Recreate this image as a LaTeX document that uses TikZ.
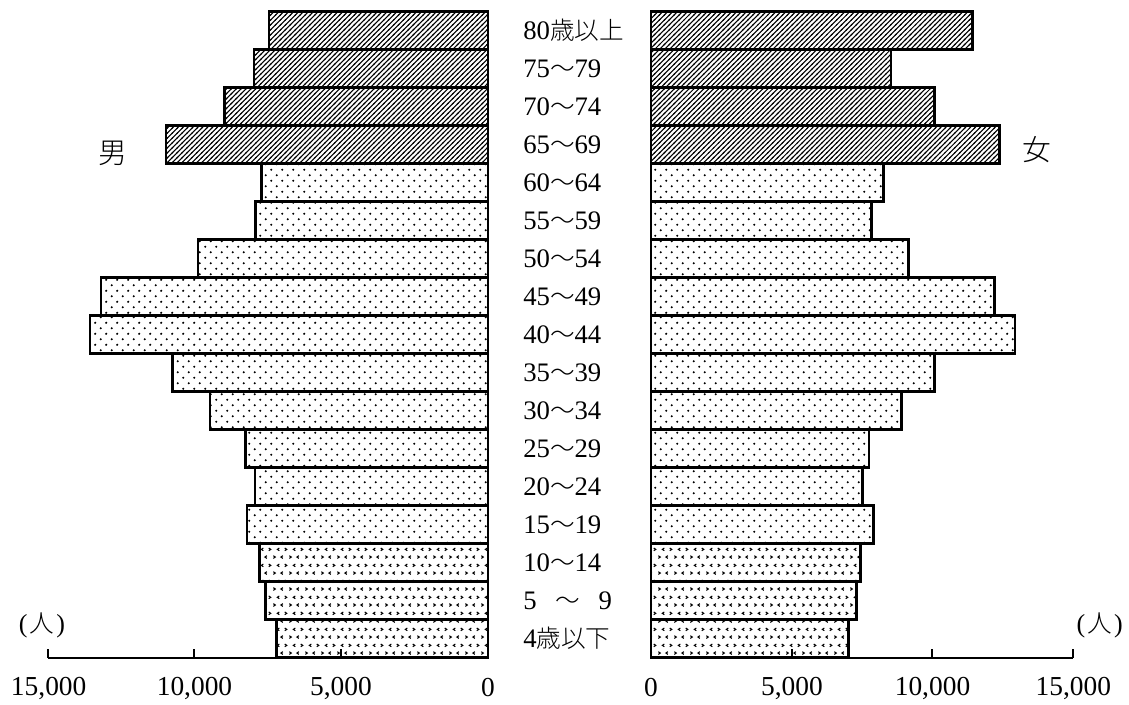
\documentclass[tikz,border=0pt]{standalone}
\usepackage{fontspec}
\setmainfont{Liberation Serif}
\newfontfamily\jp{Noto Sans CJK JP}[UprightFont=* Light]
\newcommand\kj[1]{{\jp\fontsize{17.5}{17.5}\selectfont #1}}
\usetikzlibrary{patterns,positioning}

\pgfdeclarepatternformonly{hatchold}{\pgfqpoint{-1pt}{-1pt}}{\pgfqpoint{4.5pt}{4.5pt}}{\pgfqpoint{3.5pt}{3.5pt}}{
  \pgfsetlinewidth{0.75pt}
  \pgfpathmoveto{\pgfqpoint{-0.5pt}{-0.5pt}}\pgfpathlineto{\pgfqpoint{4pt}{4pt}}
  \pgfusepath{stroke}}
\pgfdeclarepatternformonly{dotsmid}{\pgfpointorigin}{\pgfqpoint{7.8pt}{7.8pt}}{\pgfqpoint{7.8pt}{7.8pt}}{
  \pgfpathcircle{\pgfqpoint{1.95pt}{1.95pt}}{0.85pt}
  \pgfpathcircle{\pgfqpoint{5.85pt}{5.85pt}}{0.85pt}
  \pgfusepath{fill}}
\pgfdeclarepatternformonly{marksyoung}{\pgfpointorigin}{\pgfqpoint{11.4pt}{11.4pt}}{\pgfqpoint{11.4pt}{11.4pt}}{
  \pgfsetlinewidth{0.8pt}
  % row of > and <
  \pgfpathmoveto{\pgfqpoint{1pt}{3.2pt}}\pgfpathlineto{\pgfqpoint{2.5pt}{2.2pt}}\pgfpathlineto{\pgfqpoint{1pt}{1.2pt}}
  \pgfpathmoveto{\pgfqpoint{8.2pt}{3.2pt}}\pgfpathlineto{\pgfqpoint{6.7pt}{2.2pt}}\pgfpathlineto{\pgfqpoint{8.2pt}{1.2pt}}
  % shifted row
  \pgfpathmoveto{\pgfqpoint{5.5pt}{8.9pt}}\pgfpathlineto{\pgfqpoint{4pt}{7.9pt}}\pgfpathlineto{\pgfqpoint{5.5pt}{6.9pt}}
  \pgfpathmoveto{\pgfqpoint{9.6pt}{8.9pt}}\pgfpathlineto{\pgfqpoint{11.1pt}{7.9pt}}\pgfpathlineto{\pgfqpoint{9.6pt}{6.9pt}}
  \pgfusepath{stroke}}

\tikzset{
  bar/.style={draw,line width=1.9pt},
  old/.style={bar,pattern=hatchold},
  mid/.style={bar,pattern=dotsmid},
  young/.style={bar,pattern=marksyoung},
  age/.style={anchor=west,inner sep=0pt,font=\fontsize{19}{19}\selectfont},
  num/.style={inner sep=0pt,font=\fontsize{19.5}{19.5}\selectfont},
  sex/.style={inner sep=0pt,font=\jp\fontsize{20.5}{20.5}\selectfont},
  unit/.style={inner sep=0pt,font=\fontsize{18.5}{18.5}\selectfont},
  axis/.style={line width=0.75pt}
}

\begin{document}
\begin{tikzpicture}[x=0.025cm,y=-0.025cm]
\useasboundingbox (0,0) rectangle (1129,704);

% axes
\coordinate (l15) at (48,658);
\coordinate (l10) at (194,658);
\coordinate (l5) at (341,658);
\coordinate (l0) at (488,658);
\coordinate (r0) at (651,658);
\coordinate (r5) at (792,658);
\coordinate (r10) at (932,658);
\coordinate (r15) at (1073,658);
\draw[axis] (l15) -- (l0);
\draw[axis] (r0) -- (r15);
\draw[axis] (l15) -- ++(0,-9);
\draw[axis] (l10) -- ++(0,-9);
\draw[axis] (l5) -- ++(0,-9);
\draw[axis] (r5) -- ++(0,-9);
\draw[axis] (r10) -- ++(0,-9);
\draw[axis] (r15) -- ++(0,-9);

% men
\draw[old] (269,11.5) rectangle (488,49.5);
\draw[old] (254,49.5) rectangle (488,87.5);
\draw[old] (224.5,87.5) rectangle (488,125.5);
\draw[old] (166,125.5) rectangle (488,163.5);
\draw[mid] (261.3,163.5) rectangle (488,201.5);
\draw[mid] (255.7,201.5) rectangle (488,239.5);
\draw[mid] (198,239.5) rectangle (488,277.5);
\draw[mid] (101,277.5) rectangle (488,315.5);
\draw[mid] (90,315.5) rectangle (488,353.5);
\draw[mid] (172.3,353.5) rectangle (488,391.5);
\draw[mid] (210,391.5) rectangle (488,429.5);
\draw[mid] (245.3,429.5) rectangle (488,467.5);
\draw[mid] (255,467.5) rectangle (488,505.5);
\draw[mid] (247,505.5) rectangle (488,543.5);
\draw[young] (259.7,543.5) rectangle (488,581.5);
\draw[young] (265.7,581.5) rectangle (488,619.5);
\draw[young] (276.3,619.5) rectangle (488,657.5);

% women
\draw[old] (651,11.5) rectangle (972.7,49.5);
\draw[old] (651,49.5) rectangle (891,87.5);
\draw[old] (651,87.5) rectangle (934.3,125.5);
\draw[old] (651,125.5) rectangle (999.3,163.5);
\draw[mid] (651,163.5) rectangle (883.3,201.5);
\draw[mid] (651,201.5) rectangle (871.7,239.5);
\draw[mid] (651,239.5) rectangle (908.3,277.5);
\draw[mid] (651,277.5) rectangle (994.3,315.5);
\draw[mid] (651,315.5) rectangle (1015,353.5);
\draw[mid] (651,353.5) rectangle (934.3,391.5);
\draw[mid] (651,391.5) rectangle (901.7,429.5);
\draw[mid] (651,429.5) rectangle (869,467.5);
\draw[mid] (651,467.5) rectangle (862.3,505.5);
\draw[mid] (651,505.5) rectangle (873.3,543.5);
\draw[young] (651,543.5) rectangle (860.7,581.5);
\draw[young] (651,581.5) rectangle (856.7,619.5);
\draw[young] (651,619.5) rectangle (848.3,657.5);

% age groups
\node[age] (a80) at (523,30.5) {80\kj{歳以上}};
\node[age] (a75) at (523,68.5) {75\kj{〜}79};
\node[age] (a70) at (523,106.5) {70\kj{〜}74};
\node[age] (a65) at (523,144.5) {65\kj{〜}69};
\node[age] (a60) at (523,182.5) {60\kj{〜}64};
\node[age] (a55) at (523,220.5) {55\kj{〜}59};
\node[age] (a50) at (523,258.5) {50\kj{〜}54};
\node[age] (a45) at (523,296.5) {45\kj{〜}49};
\node[age] (a40) at (523,334.5) {40\kj{〜}44};
\node[age] (a35) at (523,372.5) {35\kj{〜}39};
\node[age] (a30) at (523,410.5) {30\kj{〜}34};
\node[age] (a25) at (523,448.5) {25\kj{〜}29};
\node[age] (a20) at (523,486.5) {20\kj{〜}24};
\node[age] (a15) at (523,524.5) {15\kj{〜}19};
\node[age] (a10) at (523,562.5) {10\kj{〜}14};
\node[age] (a5) at (523,600.5) {5\hspace{0.7em}\kj{〜}\hspace{0.7em}9};
\node[age] (a0) at (523,638.5) {4\kj{歳以下}};

\node[sex] (men) at (113,153) {男};
\node[sex] (women) at (1037,150) {女};
\node[unit] (unitl) at (42,625) {(\hspace{1.5pt}\kj{人}\hspace{1.5pt})};
\node[unit,anchor=east] (unitr) at (1123,625) {(\hspace{1.5pt}\kj{人}\hspace{1.5pt})};

% scale
\node[num] (n15l) at (48.7,688) {15,000};
\node[num] (n10l) at (194.5,688) {10,000};
\node[num] (n5l) at (341,688) {5,000};
\node[num] (n0l) at (488,688) {0};
\node[num] (n0r) at (651,688) {0};
\node[num] (n5r) at (792,688) {5,000};
\node[num] (n10r) at (932.5,688) {10,000};
\node[num] (n15r) at (1073.3,688) {15,000};
\end{tikzpicture}
\end{document}
